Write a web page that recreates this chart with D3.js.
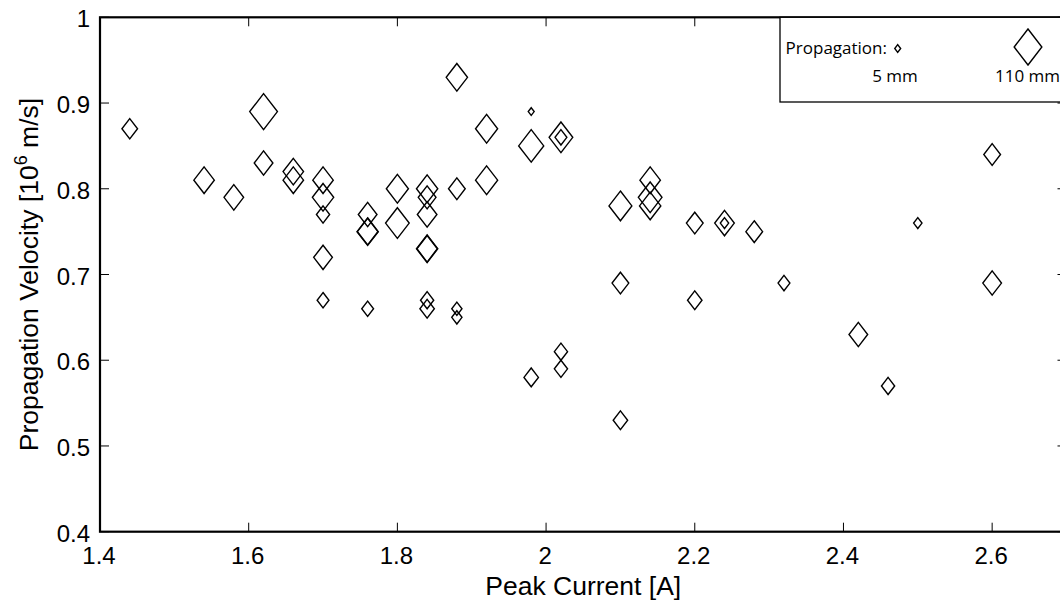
<!DOCTYPE html>
<html>
<head>
<meta charset="utf-8">
<script src="https://cdn.jsdelivr.net/npm/d3@7"></script>
<style>
  html, body { margin: 0; padding: 0; background: #fff; }
  svg { display: block; }
  .tick-label { font-family: "Liberation Sans", Arial, Helvetica, sans-serif; font-size: 24px; fill: #000; }
  .axis-label { font-family: "Liberation Sans", Arial, Helvetica, sans-serif; font-size: 26.5px; fill: #000; }
  .legend-text { font-family: "Open Sans", "Noto Sans", sans-serif; font-size: 17px; fill: #000; }
</style>
</head>
<body>
<svg id="chart" width="1060" height="603"></svg>
<script>
// Peak current [A] of each discharge
const current = [
  1.44, 1.54, 1.58, 1.62, 1.62, 1.66, 1.66,
  1.70, 1.70, 1.70, 1.70, 1.70,
  1.76, 1.76, 1.76, 1.76,
  1.80, 1.80,
  1.84, 1.84, 1.84, 1.84, 1.84, 1.84, 1.84,
  1.88, 1.88, 1.88, 1.88,
  1.92, 1.92,
  1.98, 1.98, 1.98,
  2.02, 2.02, 2.02, 2.02,
  2.10, 2.10, 2.10,
  2.14, 2.14, 2.14,
  2.20, 2.20,
  2.24, 2.24,
  2.28, 2.32, 2.42, 2.46, 2.50,
  2.60, 2.60
];
// Propagation velocity [10^6 m/s]
const velocity = [
  0.87, 0.81, 0.79, 0.89, 0.83, 0.82, 0.81,
  0.81, 0.79, 0.77, 0.72, 0.67,
  0.77, 0.75, 0.75, 0.66,
  0.80, 0.76,
  0.80, 0.79, 0.77, 0.73, 0.73, 0.67, 0.66,
  0.93, 0.80, 0.66, 0.65,
  0.87, 0.81,
  0.89, 0.85, 0.58,
  0.86, 0.86, 0.61, 0.59,
  0.78, 0.69, 0.53,
  0.81, 0.79, 0.78,
  0.76, 0.67,
  0.76, 0.76,
  0.75, 0.69, 0.63, 0.57, 0.76,
  0.84, 0.69
];
// Propagation distance [mm], sets the marker size
const propagation = [
  35, 60, 55, 110, 50, 60, 60,
  60, 65, 25, 50, 20,
  50, 60, 65, 20,
  70, 80,
  65, 45, 55, 60, 65, 25, 30,
  65, 40, 15, 15,
  70, 70,
  5, 90, 30,
  80, 20, 25, 25,
  75, 40, 30,
  60, 80, 65,
  40, 30,
  55, 10,
  40, 20, 50, 25, 10,
  40, 50
];

const xTicks = [1.4, 1.6, 1.8, 2.0, 2.2, 2.4, 2.6];
const yTicks = [0.4, 0.5, 0.6, 0.7, 0.8, 0.9, 1.0];
const legendSizes = [5, 110];
const legendLabels = ["5 mm", "110 mm"];

const svg = d3.select("#chart");

const x = d3.scaleLinear().domain([1.4, 2.7]).range([100, 1066.5]);
const y = d3.scaleLinear().domain([0.4, 1.0]).range([531.7, 17.3]);
// marker height grows with the square root of the distance
const size = d3.scaleSqrt().domain([0, 110]).range([0, 36]);

function diamond(h) {
  const hh = h / 2, hw = h * 0.385;
  return `M0,${-hh}L${hw},0L0,${hh}L${-hw},0Z`;
}

const x0 = x.range()[0], x1 = x.range()[1];
const y0 = y.range()[0], y1 = y.range()[1];
const tickLen = 9;

// ticks on all four sides (inward)
const ticks = svg.append("g").attr("stroke", "#000").attr("stroke-width", 1);
xTicks.forEach(t => {
  ticks.append("line").attr("x1", x(t)).attr("x2", x(t)).attr("y1", y0).attr("y2", y0 - tickLen);
  ticks.append("line").attr("x1", x(t)).attr("x2", x(t)).attr("y1", y1).attr("y2", y1 + tickLen);
});
yTicks.forEach(t => {
  ticks.append("line").attr("x1", x0).attr("x2", x0 + tickLen).attr("y1", y(t)).attr("y2", y(t));
  ticks.append("line").attr("x1", x1).attr("x2", x1 - tickLen).attr("y1", y(t)).attr("y2", y(t));
});

// tick labels
svg.append("g").selectAll("text").data(xTicks).join("text")
  .attr("class", "tick-label")
  .attr("x", d => x(d) - 1)
  .attr("y", 564)
  .attr("text-anchor", "middle")
  .text(d => d3.format("")(+d.toFixed(1)));

svg.append("g").selectAll("text").data(yTicks).join("text")
  .attr("class", "tick-label")
  .attr("x", 90)
  .attr("y", d => y(d) + 10)
  .attr("text-anchor", "end")
  .text(d => d3.format("")(+d.toFixed(1)));

// data markers
svg.append("g")
  .attr("fill", "none")
  .attr("stroke", "#000")
  .attr("stroke-width", 1.4)
  .selectAll("path")
  .data(current.map((c, i) => ({ c, v: velocity[i], p: propagation[i] })))
  .join("path")
  .attr("transform", d => `translate(${x(d.c)},${y(d.v)})`)
  .attr("d", d => diamond(size(d.p)));

// axes box
svg.append("rect")
  .attr("x", x0).attr("y", y1)
  .attr("width", x1 - x0).attr("height", y0 - y1)
  .attr("fill", "none").attr("stroke", "#000").attr("stroke-width", 2.2);

// axis titles
svg.append("text")
  .attr("class", "axis-label")
  .attr("x", (x0 + x1) / 2)
  .attr("y", 595)
  .attr("text-anchor", "middle")
  .text("Peak Current [A]");

const yl = svg.append("text")
  .attr("class", "axis-label")
  .attr("transform", `translate(37.5,${(y0 + y1) / 2}) rotate(-90)`)
  .attr("text-anchor", "middle");
yl.append("tspan").text("Propagation Velocity [10");
yl.append("tspan").attr("dy", -11).attr("font-size", "18px").text("6");
yl.append("tspan").attr("dy", 11).text(" m/s]");

// legend
const lg = svg.append("g");
lg.append("rect")
  .attr("x", 780).attr("y", y1)
  .attr("width", x1 - 780).attr("height", 102 - y1)
  .attr("fill", "#fff").attr("stroke", "#000").attr("stroke-width", 1.3);
lg.append("text").attr("class", "legend-text")
  .attr("x", 887).attr("y", 54).attr("text-anchor", "end")
  .text("Propagation:");
const legendX = [897.7, 1028];
lg.selectAll("path").data(legendSizes).join("path")
  .attr("transform", (d, i) => `translate(${legendX[i]},${i ? 47 : 48.5})`)
  .attr("d", d => diamond(size(d)))
  .attr("fill", "none").attr("stroke", "#000").attr("stroke-width", 1.4);
lg.selectAll("text.lbl").data(legendLabels).join("text")
  .attr("class", "legend-text lbl")
  .attr("x", (d, i) => i ? 1027.5 : 895)
  .attr("y", 82)
  .attr("text-anchor", "middle")
  .text(d => d);
</script>
</body>
</html>
